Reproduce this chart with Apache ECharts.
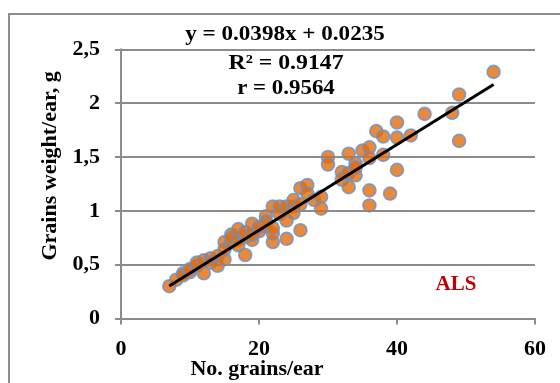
<!DOCTYPE html>
<html>
<head>
<meta charset="utf-8">
<script src="https://cdn.jsdelivr.net/npm/echarts@6/dist/echarts.min.js"></script>
<style>
html,body{margin:0;padding:0;background:#fff;}
#chart{width:560px;height:383px;}
</style>
</head>
<body>
<div id="chart"></div>
<script>
// Data
var grainsPerEar = [7,8,9,9,10,10,11,11,12,12,13,13,14,14,15,15,15,16,16,16,17,17,17,18,18,18,19,19,19,20,20,21,21,21,22,22,22,22,23,23,24,24,24,25,25,25,26,26,26,27,27,28,29,29,30,30,32,32,33,33,33,34,34,34,35,36,36,36,36,37,38,38,39,40,40,40,42,44,48,49,49,54];
var grainWeight = [0.30,0.36,0.42,0.40,0.43,0.46,0.49,0.52,0.42,0.54,0.56,0.52,0.49,0.58,0.55,0.71,0.64,0.78,0.71,0.75,0.73,0.83,0.68,0.59,0.76,0.80,0.73,0.88,0.78,0.81,0.85,0.95,0.90,0.86,1.04,0.71,0.79,0.84,1.04,0.97,0.91,0.74,1.04,1.04,0.98,1.10,0.82,1.21,1.06,1.24,1.16,1.10,1.13,1.02,1.50,1.43,1.36,1.29,1.53,1.22,1.35,1.44,1.33,1.40,1.56,1.59,1.49,1.19,1.05,1.74,1.69,1.52,1.16,1.82,1.68,1.38,1.70,1.90,1.91,2.08,1.65,2.29];
var trendX = [7, 54];
var trendY = [0.302, 2.173];
var yTickLabels = ['0','0,5','1','1,5','2','2,5'];
var xTickLabels = ['0','20','40','60'];
var equationLines = ['y = 0.0398x + 0.0235', 'R\u00B2 = 0.9147', 'r = 0.9564'];
var panelLabel = 'ALS';
var xAxisTitle = 'No. grains/ear';
var yAxisTitle = 'Grains weight/ear, g';

var points = grainsPerEar.map(function(x, i){ return [x, grainWeight[i]]; });
var trend = trendX.map(function(x, i){ return [x, trendY[i]]; });

var FONT = '"Liberation Serif", "Times New Roman", serif';
var GRAY = '#8c8c8c';

var chart = echarts.init(document.getElementById('chart'), null, {renderer: 'canvas'});
chart.setOption({
  animation: false,
  backgroundColor: '#fff',
  grid: {left: 121, right: 25, top: 49.3, bottom: 64.5, containLabel: false, outerBoundsMode: 'none'},
  xAxis: {
    type: 'value', min: 0, max: 60, interval: 20,
    name: xAxisTitle, nameLocation: 'middle', nameGap: 40, nameMoveOverlap: false,
    nameTextStyle: {fontFamily: FONT, fontWeight: 'bold', fontSize: 22, color: '#000', padding: [0, 142, 0, 0]},
    axisLine: {show: true, lineStyle: {color: GRAY, width: 2}},
    axisTick: {show: true, inside: false, length: 6, lineStyle: {color: GRAY, width: 2}},
    axisLabel: {margin: 20, fontFamily: FONT, fontWeight: 'bold', fontSize: 22, color: '#000',
      formatter: function(v){ return xTickLabels[Math.round(v/20)]; }},
    splitLine: {show: false}
  },
  yAxis: {
    type: 'value', min: 0, max: 2.5, interval: 0.5,
    name: yAxisTitle, nameLocation: 'middle', nameGap: 60, nameRotate: 90, nameMoveOverlap: false,
    nameTextStyle: {fontFamily: FONT, fontWeight: 'bold', fontSize: 22, color: '#000', padding: [0, 0, 0, 36]},
    axisLine: {show: true, lineStyle: {color: GRAY, width: 2}},
    axisTick: {show: true, inside: false, length: 6, lineStyle: {color: GRAY, width: 2}},
    axisLabel: {margin: 21, fontFamily: FONT, fontWeight: 'bold', fontSize: 22, color: '#000',
      formatter: function(v){ return yTickLabels[Math.round(v/0.5)]; }},
    splitLine: {show: true, lineStyle: {color: GRAY, width: 2}}
  },
  series: [
    {
      type: 'scatter', data: points, symbol: 'circle', symbolSize: 13,
      itemStyle: {color: '#E36C0A', borderColor: '#6193D3', borderWidth: 1.6},
      z: 2
    },
    {
      type: 'line', data: trend, symbol: 'none',
      lineStyle: {color: '#000', width: 3},
      z: 3
    }
  ],
  graphic: [
    {type: 'rect', shape: {x: 9, y: 14, width: 700, height: 500}, style: {fill: 'none', stroke: GRAY, lineWidth: 2}, silent: true, z: -1},
    {type: 'text', x: 285, y: 34, style: {text: equationLines[0], font: 'bold 22px ' + FONT, fill: '#000', align: 'center', verticalAlign: 'middle'}, scaleX: 1.05, z: 10},
    {type: 'text', x: 286, y: 63, style: {text: equationLines[1], font: 'bold 22px ' + FONT, fill: '#000', align: 'center', verticalAlign: 'middle'}, scaleX: 1.08, z: 10},
    {type: 'text', x: 286, y: 88, style: {text: equationLines[2], font: 'bold 22px ' + FONT, fill: '#000', align: 'center', verticalAlign: 'middle'}, scaleX: 1.04, z: 10},
    {type: 'text', x: 456, y: 285, style: {text: panelLabel, font: 'bold 21px ' + FONT, fill: '#C00000', align: 'center', verticalAlign: 'middle'}, z: 10}
  ]
});
</script>
</body>
</html>
